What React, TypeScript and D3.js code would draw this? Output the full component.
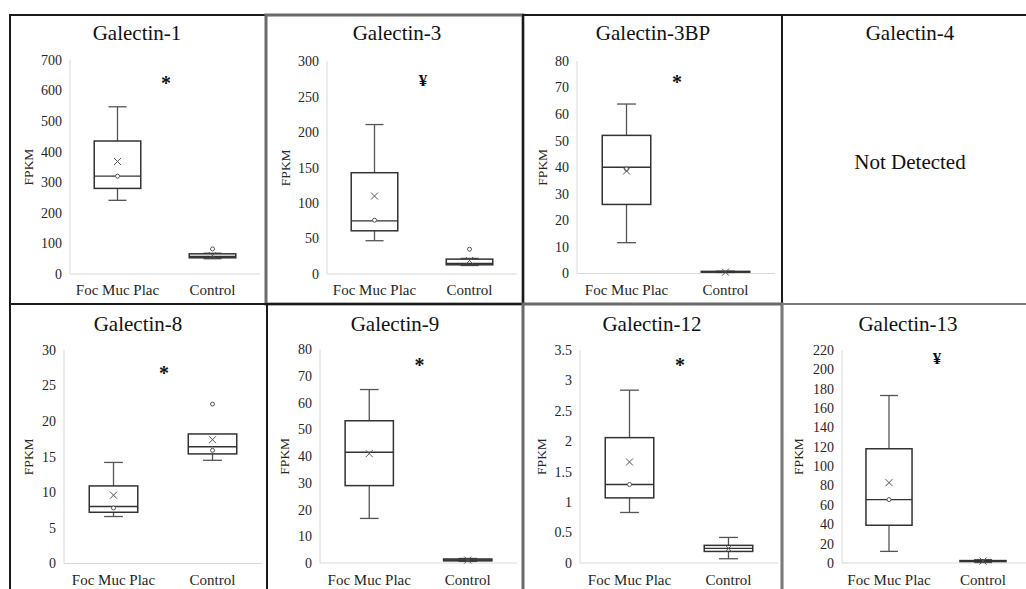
import React from 'react';
import * as d3 from 'd3';

const FONT = 'Liberation Serif, DejaVu Serif, serif';

const categories = ['Foc Muc Plac', 'Control'];

// five-number boxes: [whiskerLow, q1, median, q3, whiskerHigh]
const gal1Foc = [241, 280, 320, 435, 547];
const gal1Ctrl = [50, 53, 57, 66, 68];
const gal1Means = [368, 60];
const gal1Points = [[320], []];
const gal1Outliers = [[], [82]];

const gal3Foc = [47, 61, 75, 143, 211];
const gal3Ctrl = [12, 13, 15, 21, 22];
const gal3Means = [110, 19];
const gal3Points = [[76], []];
const gal3Outliers = [[], [35]];

const gal3bpFoc = [11.6, 26, 40, 52, 63.8];
const gal3bpCtrl = [0.4, 0.5, 0.6, 0.8, 0.9];
const gal3bpMeans = [38.6, 0.5];
const gal3bpPoints = [[39.3], []];
const gal3bpOutliers = [[], []];

const gal8Foc = [6.6, 7.2, 8.0, 10.9, 14.2];
const gal8Ctrl = [14.5, 15.4, 16.4, 18.2, 18.2];
const gal8Means = [9.6, 17.4];
const gal8Points = [[7.8], [15.9]];
const gal8Outliers = [[], [22.4]];

const gal9Foc = [16.7, 29, 41.5, 53.3, 65];
const gal9Ctrl = [0.6, 0.8, 1.1, 1.5, 1.7];
const gal9Means = [41, 1.1];
const gal9Points = [[], []];
const gal9Outliers = [[], []];

const gal12Foc = [0.83, 1.07, 1.29, 2.06, 2.84];
const gal12Ctrl = [0.07, 0.19, 0.24, 0.29, 0.42];
const gal12Means = [1.66, 0.24];
const gal12Points = [[1.29], []];
const gal12Outliers = [[], []];

const gal13Foc = [12, 39, 65.5, 118, 173];
const gal13Ctrl = [0.5, 1.5, 2, 2.5, 3.5];
const gal13Means = [83, 2];
const gal13Points = [[65.5], []];
const gal13Outliers = [[], []];

// y-axis: [max, step]
const gal1Axis = [700, 100];
const gal3Axis = [300, 50];
const gal3bpAxis = [80, 10];
const gal8Axis = [30, 5];
const gal9Axis = [80, 10];
const gal12Axis = [3.5, 0.5];
const gal13Axis = [220, 20];

// significance markers: [symbol, y value]
const gal1Sig = ['*', 630];
const gal3Sig = ['¥', 275];
const gal3bpSig = ['*', 73];
const gal8Sig = ['*', 27];
const gal9Sig = ['*', 75];
const gal12Sig = ['*', 3.28];
const gal13Sig = ['¥', 213];

const yLabel = 'FPKM';
const notDetectedLabel = 'Not Detected';

const genes = [
  { title: 'Galectin-1', boxes: [gal1Foc, gal1Ctrl], means: gal1Means, points: gal1Points, outliers: gal1Outliers, axis: gal1Axis, sig: gal1Sig },
  { title: 'Galectin-3', boxes: [gal3Foc, gal3Ctrl], means: gal3Means, points: gal3Points, outliers: gal3Outliers, axis: gal3Axis, sig: gal3Sig },
  { title: 'Galectin-3BP', boxes: [gal3bpFoc, gal3bpCtrl], means: gal3bpMeans, points: gal3bpPoints, outliers: gal3bpOutliers, axis: gal3bpAxis, sig: gal3bpSig },
  { title: 'Galectin-4', boxes: null },
  { title: 'Galectin-8', boxes: [gal8Foc, gal8Ctrl], means: gal8Means, points: gal8Points, outliers: gal8Outliers, axis: gal8Axis, sig: gal8Sig },
  { title: 'Galectin-9', boxes: [gal9Foc, gal9Ctrl], means: gal9Means, points: gal9Points, outliers: gal9Outliers, axis: gal9Axis, sig: gal9Sig },
  { title: 'Galectin-12', boxes: [gal12Foc, gal12Ctrl], means: gal12Means, points: gal12Points, outliers: gal12Outliers, axis: gal12Axis, sig: gal12Sig },
  { title: 'Galectin-13', boxes: [gal13Foc, gal13Ctrl], means: gal13Means, points: gal13Points, outliers: gal13Outliers, axis: gal13Axis, sig: gal13Sig },
];

// layout (pixels) per panel
const layout = [
  { px: 10, py: 15, pw: 256, ph: 289, border: '#1a1a1a', bw: 2, titleX: 137, titleY: 40, x0: 70, x1: 260, yTop: 60, yBot: 274, labelX: 28, catY: 295 },
  { px: 266, py: 15, pw: 257, ph: 289, border: '#6a6a6a', bw: 3, titleX: 397, titleY: 40, x0: 327, x1: 517, yTop: 61.5, yBot: 274, labelX: 285, catY: 295 },
  { px: 523, py: 15, pw: 259, ph: 289, border: '#1a1a1a', bw: 2, titleX: 653, titleY: 40, x0: 577, x1: 775, yTop: 61, yBot: 273.5, labelX: 542, catY: 295 },
  { px: 782, py: 15, pw: 250, ph: 289, border: '#1a1a1a', bw: 2, titleX: 910, titleY: 40, textY: 169 },
  { px: 10, py: 304, pw: 257, ph: 300, border: '#1a1a1a', bw: 2, titleX: 138, titleY: 331, x0: 64, x1: 262, yTop: 350, yBot: 563.5, labelX: 28, catY: 585 },
  { px: 267, py: 304, pw: 256, ph: 300, border: '#1a1a1a', bw: 2, titleX: 395, titleY: 331, x0: 320, x1: 517, yTop: 349.5, yBot: 563, labelX: 284, catY: 585 },
  { px: 523, py: 304, pw: 259, ph: 300, border: '#6a6a6a', bw: 3, titleX: 652, titleY: 331, x0: 580, x1: 778, yTop: 350, yBot: 563, labelX: 541, catY: 585 },
  { px: 782, py: 304, pw: 250, ph: 300, border: '#7a7a7a', bw: 2, titleX: 908, titleY: 331, x0: 842, x1: 1030, yTop: 350, yBot: 563, labelX: 798, catY: 585 },
];

const fmt = (v: number) => String(Math.round(v * 10) / 10);

function Panel({ g, l }: { g: any; l: any }) {
  const frame = (
    <rect x={l.px} y={l.py} width={l.pw} height={l.ph} fill="none" stroke={l.border} strokeWidth={l.bw} />
  );
  const title = (
    <text x={l.titleX} y={l.titleY} textAnchor="middle" style={{ fontFamily: FONT }} fontSize={21} fill="#111">
      {g.title}
    </text>
  );
  if (!g.boxes) {
    return (
      <g>
        {frame}
        {title}
        <text x={l.titleX} y={l.textY} textAnchor="middle" style={{ fontFamily: FONT }} fontSize={21} fill="#111">
          {notDetectedLabel}
        </text>
      </g>
    );
  }
  const [yMax, step] = g.axis;
  const x = d3.scaleBand<string>().domain(categories).range([l.x0, l.x1]);
  const y = d3.scaleLinear().domain([0, yMax]).range([l.yBot, l.yTop]);
  const ticks = d3.range(0, yMax + step / 2, step);
  const bw = x.bandwidth();
  const boxW = bw * 0.49;
  const capW = bw * 0.095;
  const boxStroke = '#333333';
  const whiskStroke = '#555555';
  return (
    <g>
      {frame}
      {title}
      <line x1={l.x0} x2={l.x0} y1={l.yTop} y2={l.yBot} stroke="#d9d9d9" strokeWidth={1} />
      <line x1={l.x0} x2={l.x1} y1={l.yBot} y2={l.yBot} stroke="#d9d9d9" strokeWidth={1} />
      {ticks.map((t) => (
        <text key={t} x={l.x0 - 8} y={y(t)} dy="0.35em" textAnchor="end" style={{ fontFamily: FONT }} fontSize={14} fill="#262626">
          {fmt(t)}
        </text>
      ))}
      <text
        transform={`translate(${l.labelX},${(l.yTop + l.yBot) / 2}) rotate(-90)`}
        textAnchor="middle"
        dy="0.35em"
        style={{ fontFamily: FONT }}
        fontSize={13.5}
        fill="#262626"
      >
        {yLabel}
      </text>
      {categories.map((c) => (
        <text key={c} x={(x(c) as number) + bw / 2} y={l.catY} textAnchor="middle" style={{ fontFamily: FONT }} fontSize={15} fill="#1f1f1f">
          {c}
        </text>
      ))}
      {categories.map((c, i) => {
        const [lo, q1, med, q3, hi] = g.boxes[i];
        const cx = (x(c) as number) + bw / 2;
        return (
          <g key={c}>
            {hi > q3 && (
              <>
                <line x1={cx} x2={cx} y1={y(hi)} y2={y(q3)} stroke={whiskStroke} strokeWidth={1.3} />
                <line x1={cx - capW} x2={cx + capW} y1={y(hi)} y2={y(hi)} stroke={whiskStroke} strokeWidth={1.3} />
              </>
            )}
            {lo < q1 && (
              <>
                <line x1={cx} x2={cx} y1={y(q1)} y2={y(lo)} stroke={whiskStroke} strokeWidth={1.3} />
                <line x1={cx - capW} x2={cx + capW} y1={y(lo)} y2={y(lo)} stroke={whiskStroke} strokeWidth={1.3} />
              </>
            )}
            <rect
              x={cx - boxW / 2}
              y={y(q3)}
              width={boxW}
              height={Math.max(y(q1) - y(q3), 0.5)}
              fill="#ffffff"
              stroke={boxStroke}
              strokeWidth={1.5}
            />
            <line x1={cx - boxW / 2} x2={cx + boxW / 2} y1={y(med)} y2={y(med)} stroke={boxStroke} strokeWidth={1.4} />
            {g.points[i].map((p: number, k: number) => (
              <circle key={'p' + k} cx={cx} cy={y(p)} r={2} fill="#fff" stroke="#555" strokeWidth={1} />
            ))}
            {g.outliers[i].map((p: number, k: number) => (
              <circle key={'o' + k} cx={cx} cy={y(p)} r={2} fill="#fff" stroke="#555" strokeWidth={1} />
            ))}
            <path
              d={`M${cx - 3.5},${y(g.means[i]) - 3.5}L${cx + 3.5},${y(g.means[i]) + 3.5}M${cx - 3.5},${y(g.means[i]) + 3.5}L${cx + 3.5},${y(g.means[i]) - 3.5}`}
              stroke="#555"
              strokeWidth={1}
              fill="none"
            />
          </g>
        );
      })}
      <text
        x={(l.x0 + l.x1) / 2 + 1}
        y={y(g.sig[1])}
        dy={g.sig[0] === '*' ? '0.45em' : '0.4em'}
        textAnchor="middle"
        style={{ fontFamily: FONT }}
        fontWeight="bold"
        fontSize={g.sig[0] === '*' ? 20 : 17}
        fill="#111"
      >
        {g.sig[0]}
      </text>
    </g>
  );
}

export default function App() {
  return (
    <svg
      width={1026}
      height={589}
      viewBox="0 0 1026 589"
      style={{ position: 'absolute', left: 0, top: 0, background: '#fff' }}
    >
      <rect x={0} y={0} width={1026} height={589} fill="#fff" />
      {genes.map((g, i) => (
        <Panel key={g.title} g={g} l={layout[i]} />
      ))}
    </svg>
  );
}
